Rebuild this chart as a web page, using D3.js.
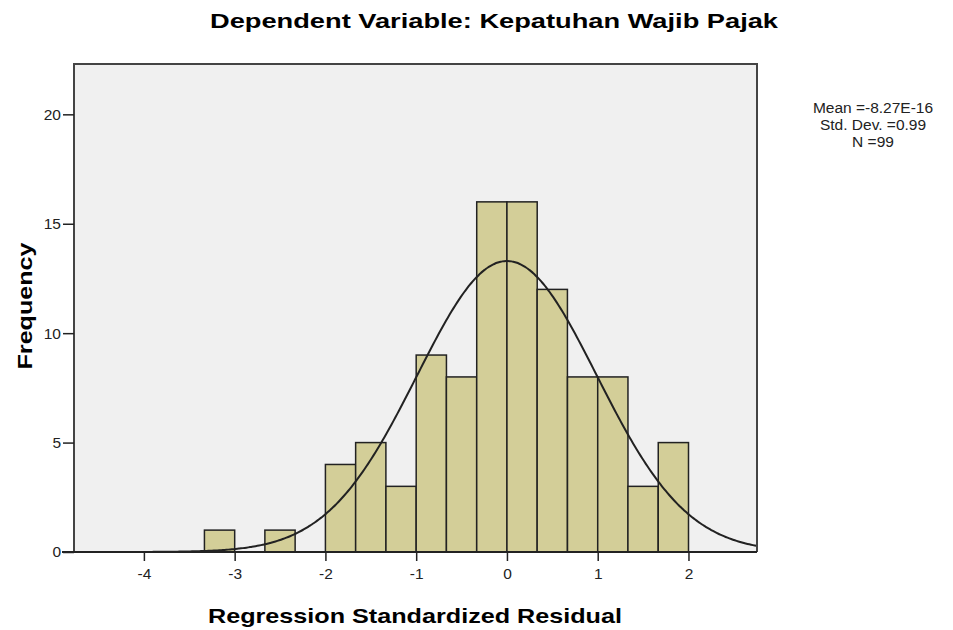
<!DOCTYPE html>
<html>
<head>
<meta charset="utf-8">
<script src="https://cdn.jsdelivr.net/npm/d3@7"></script>
<style>
  body { margin: 0; background: #fff; }
  text { font-family: Arial, "Liberation Sans", sans-serif; }
</style>
</head>
<body>
<script>
// data
var binStart = [-3.333, -3.0, -2.667, -2.333, -2.0, -1.667, -1.333, -1.0, -0.667, -0.333, 0.0, 0.333, 0.667, 1.0, 1.333, 1.667];
var binCount = [1, 0, 1, 0, 4, 5, 3, 9, 8, 16, 16, 12, 8, 8, 3, 5];
var binWidth = 1 / 3;
var xTicks = [-4, -3, -2, -1, 0, 1, 2];
var yTicks = [0, 5, 10, 15, 20];
var statsMean = -8.27e-16, statsSd = 0.99, statsN = 99;
var statsLines = ["Mean =-8.27E-16", "Std. Dev. =0.99", "N =99"];

var W = 953, H = 630;
var margin = {top: 64, right: 196, bottom: 78, left: 74},
    width = W - margin.left - margin.right,
    height = H - margin.top - margin.bottom;

var x = d3.scaleLinear().domain([-4.77, 2.755]).range([0, width]),
    y = d3.scaleLinear().domain([0, 22.3]).range([height, 0]);

var svg = d3.select("body").append("svg")
    .attr("width", W).attr("height", H);

svg.append("text")
   .attr("x", 494).attr("y", 28)
   .attr("text-anchor", "middle")
   .attr("textLength", 568).attr("lengthAdjust", "spacingAndGlyphs")
   .style("font-size", "21px").style("font-weight", "bold")
   .text("Dependent Variable: Kepatuhan Wajib Pajak");

var g = svg.append("g")
    .attr("transform", "translate(" + margin.left + "," + margin.top + ")");

// plot background
g.append("rect")
 .attr("width", width).attr("height", height)
 .attr("fill", "#f0f0f0");

// bars
g.selectAll(".bar")
 .data(binStart.map(function(s, i) { return {x0: s, n: binCount[i]}; })
               .filter(function(d) { return d.n > 0; }))
 .enter().append("rect")
 .attr("class", "bar")
 .attr("x", function(d) { return x(d.x0); })
 .attr("y", function(d) { return y(d.n); })
 .attr("width", function(d) { return x(d.x0 + binWidth) - x(d.x0); })
 .attr("height", function(d) { return height - y(d.n); })
 .attr("fill", "#d3ce98")
 .attr("stroke", "#222").attr("stroke-width", 1.5);

// normal curve scaled to counts
var xs = d3.range(x.domain()[0], x.domain()[1] + 0.001, 0.02);
var normal = d3.line()
    .x(function(v) { return x(v); })
    .y(function(v) {
      var z = (v - statsMean) / statsSd;
      return y(statsN * binWidth * Math.exp(-0.5 * z * z) / (statsSd * Math.sqrt(2 * Math.PI)));
    })
    .curve(d3.curveBasis);
g.append("path")
 .datum(xs)
 .attr("d", normal)
 .attr("fill", "none").attr("stroke", "#222").attr("stroke-width", 2);

// frame: top, right, left
g.append("path")
 .attr("d", "M0," + height + "V0H" + width + "V" + height)
 .attr("fill", "none").attr("stroke", "#444").attr("stroke-width", 2);

// x axis
var xa = g.append("g")
  .attr("transform", "translate(0," + height + ")")
  .call(d3.axisBottom(x).tickValues(xTicks).tickSize(9).tickSizeOuter(0).tickPadding(7)
          .tickFormat(function(d) { return String(d); }));
xa.select(".domain").attr("stroke", "#222").attr("stroke-width", 2)
  .attr("d", "M-12,0H" + width);
xa.selectAll(".tick line").attr("stroke", "#222").attr("stroke-width", 1.5);
xa.selectAll("text").style("font-size", "15.5px").attr("fill", "#222");

// y axis
var ya = g.append("g")
  .call(d3.axisLeft(y).tickValues(yTicks).tickSize(11).tickSizeOuter(0).tickPadding(2)
          .tickFormat(function(d) { return String(d); }));
ya.select(".domain").remove();
ya.selectAll(".tick line").attr("stroke", "#222").attr("stroke-width", 1.5);
ya.selectAll("text").style("font-size", "15.5px").attr("fill", "#222");

// axis titles
svg.append("text")
   .attr("x", 415).attr("y", 623)
   .attr("text-anchor", "middle")
   .attr("textLength", 414).attr("lengthAdjust", "spacingAndGlyphs")
   .style("font-size", "21px").style("font-weight", "bold")
   .text("Regression Standardized Residual");

svg.append("text")
   .attr("transform", "translate(32,306) rotate(-90)")
   .attr("text-anchor", "middle")
   .attr("textLength", 127).attr("lengthAdjust", "spacingAndGlyphs")
   .style("font-size", "21px").style("font-weight", "bold")
   .text("Frequency");

// stats box
svg.append("g").selectAll("text")
   .data(statsLines).enter().append("text")
   .attr("x", 873).attr("y", function(d, i) { return 113 + i * 17; })
   .attr("text-anchor", "middle")
   .style("font-size", "15.5px").attr("fill", "#222")
   .text(function(d) { return d; });
</script>
</body>
</html>
